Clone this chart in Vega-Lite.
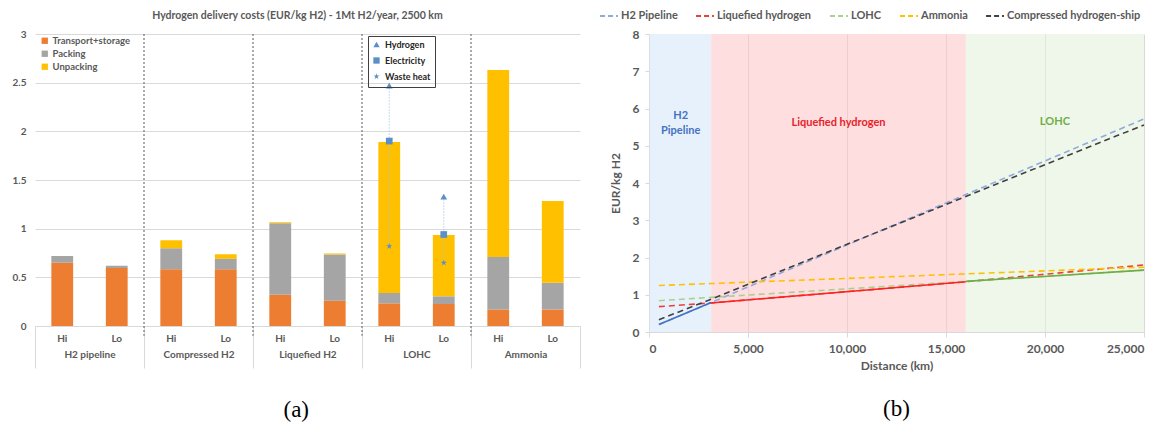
{
  "$schema": "https://vega.github.io/schema/vega-lite/v6.json",
  "background": "white",
  "padding": {"left": 12, "top": 6, "right": 5, "bottom": 5},
  "spacing": 18,
  "config": {"font": "Lato", "view": {"stroke": null}},
  "datasets": {
    "bars": [
      {"group": "H2 pipeline", "level": "Hi", "component": "Transport+storage", "value": 0.65},
      {"group": "H2 pipeline", "level": "Hi", "component": "Packing", "value": 0.07},
      {"group": "H2 pipeline", "level": "Hi", "component": "Unpacking", "value": 0},
      {"group": "H2 pipeline", "level": "Lo", "component": "Transport+storage", "value": 0.595},
      {"group": "H2 pipeline", "level": "Lo", "component": "Packing", "value": 0.025},
      {"group": "H2 pipeline", "level": "Lo", "component": "Unpacking", "value": 0},
      {"group": "Compressed H2", "level": "Hi", "component": "Transport+storage", "value": 0.583},
      {"group": "Compressed H2", "level": "Hi", "component": "Packing", "value": 0.217},
      {"group": "Compressed H2", "level": "Hi", "component": "Unpacking", "value": 0.08},
      {"group": "Compressed H2", "level": "Lo", "component": "Transport+storage", "value": 0.583},
      {"group": "Compressed H2", "level": "Lo", "component": "Packing", "value": 0.107},
      {"group": "Compressed H2", "level": "Lo", "component": "Unpacking", "value": 0.047},
      {"group": "Liquefied H2", "level": "Hi", "component": "Transport+storage", "value": 0.32},
      {"group": "Liquefied H2", "level": "Hi", "component": "Packing", "value": 0.735},
      {"group": "Liquefied H2", "level": "Hi", "component": "Unpacking", "value": 0.01},
      {"group": "Liquefied H2", "level": "Lo", "component": "Transport+storage", "value": 0.26},
      {"group": "Liquefied H2", "level": "Lo", "component": "Packing", "value": 0.475},
      {"group": "Liquefied H2", "level": "Lo", "component": "Unpacking", "value": 0.01},
      {"group": "LOHC", "level": "Hi", "component": "Transport+storage", "value": 0.233},
      {"group": "LOHC", "level": "Hi", "component": "Packing", "value": 0.107},
      {"group": "LOHC", "level": "Hi", "component": "Unpacking", "value": 1.55},
      {"group": "LOHC", "level": "Lo", "component": "Transport+storage", "value": 0.226},
      {"group": "LOHC", "level": "Lo", "component": "Packing", "value": 0.079},
      {"group": "LOHC", "level": "Lo", "component": "Unpacking", "value": 0.63},
      {"group": "Ammonia", "level": "Hi", "component": "Transport+storage", "value": 0.17},
      {"group": "Ammonia", "level": "Hi", "component": "Packing", "value": 0.54},
      {"group": "Ammonia", "level": "Hi", "component": "Unpacking", "value": 1.92},
      {"group": "Ammonia", "level": "Lo", "component": "Transport+storage", "value": 0.17},
      {"group": "Ammonia", "level": "Lo", "component": "Packing", "value": 0.275},
      {"group": "Ammonia", "level": "Lo", "component": "Unpacking", "value": 0.84}
    ],
    "cats": [
      {"group": "H2 pipeline", "level": "Hi"}, {"group": "H2 pipeline", "level": "Lo"},
      {"group": "Compressed H2", "level": "Hi"}, {"group": "Compressed H2", "level": "Lo"},
      {"group": "Liquefied H2", "level": "Hi"}, {"group": "Liquefied H2", "level": "Lo"},
      {"group": "LOHC", "level": "Hi"}, {"group": "LOHC", "level": "Lo"},
      {"group": "Ammonia", "level": "Hi"}, {"group": "Ammonia", "level": "Lo"}
    ],
    "seps": [
      {"group": "Compressed H2"}, {"group": "Liquefied H2"}, {"group": "LOHC"}, {"group": "Ammonia"}
    ],
    "energy": [
      {"group": "LOHC", "level": "Hi", "source": "Hydrogen", "value": 2.47},
      {"group": "LOHC", "level": "Hi", "source": "Electricity", "value": 1.9},
      {"group": "LOHC", "level": "Hi", "source": "Waste heat", "value": 0.82},
      {"group": "LOHC", "level": "Lo", "source": "Hydrogen", "value": 1.33},
      {"group": "LOHC", "level": "Lo", "source": "Electricity", "value": 0.94},
      {"group": "LOHC", "level": "Lo", "source": "Waste heat", "value": 0.65}
    ],
    "regions": [
      {"region": "H2 Pipeline", "km": 0, "km_end": 3140},
      {"region": "Liquefied hydrogen", "km": 3140, "km_end": 16000},
      {"region": "LOHC", "km": 16000, "km_end": 25000}
    ],
    "regionLabels": [
      {"region": "H2 Pipeline", "text": "H2", "km": 1600, "cost": 5.8},
      {"region": "H2 Pipeline", "text": "Pipeline", "km": 1600, "cost": 5.4},
      {"region": "Liquefied hydrogen", "text": "Liquefied hydrogen", "km": 9570, "cost": 5.6},
      {"region": "LOHC", "text": "LOHC", "km": 20500, "cost": 5.65}
    ],
    "curves": [
      {"series": "H2 Pipeline", "km": 500, "cost": 0.2},
      {"series": "H2 Pipeline", "km": 3140, "cost": 0.79},
      {"series": "H2 Pipeline", "km": 16000, "cost": 3.69},
      {"series": "H2 Pipeline", "km": 25000, "cost": 5.72},
      {"series": "Liquefied hydrogen", "km": 500, "cost": 0.68},
      {"series": "Liquefied hydrogen", "km": 3140, "cost": 0.78},
      {"series": "Liquefied hydrogen", "km": 16000, "cost": 1.35},
      {"series": "Liquefied hydrogen", "km": 25000, "cost": 1.8},
      {"series": "LOHC", "km": 500, "cost": 0.84},
      {"series": "LOHC", "km": 3140, "cost": 0.93},
      {"series": "LOHC", "km": 16000, "cost": 1.36},
      {"series": "LOHC", "km": 25000, "cost": 1.66},
      {"series": "Ammonia", "km": 500, "cost": 1.25},
      {"series": "Ammonia", "km": 3140, "cost": 1.3},
      {"series": "Ammonia", "km": 16000, "cost": 1.56},
      {"series": "Ammonia", "km": 25000, "cost": 1.74},
      {"series": "Compressed hydrogen-ship", "km": 500, "cost": 0.33},
      {"series": "Compressed hydrogen-ship", "km": 3140, "cost": 0.88},
      {"series": "Compressed hydrogen-ship", "km": 16000, "cost": 3.64},
      {"series": "Compressed hydrogen-ship", "km": 25000, "cost": 5.56}
    ],
    "best": [
      {"series": "H2 Pipeline", "km": 500, "cost": 0.2},
      {"series": "H2 Pipeline", "km": 3140, "cost": 0.79},
      {"series": "Liquefied hydrogen", "km": 3140, "cost": 0.78},
      {"series": "Liquefied hydrogen", "km": 16000, "cost": 1.35},
      {"series": "LOHC", "km": 16000, "cost": 1.36},
      {"series": "LOHC", "km": 25000, "cost": 1.66}
    ]
  },
  "hconcat": [
    {
      "title": {"text": "(a)", "orient": "bottom", "font": "Liberation Serif", "fontSize": 23, "fontWeight": "normal", "color": "#000000", "offset": 30, "anchor": "middle"},
      "vconcat": [
        {
          "width": 545,
          "height": 292,
          "title": {"text": "Hydrogen delivery costs (EUR/kg H2) - 1Mt H2/year, 2500 km", "fontSize": 10.5, "fontWeight": "bold", "color": "#595959", "offset": 8, "anchor": "middle", "dx": -10},
          "layer": [
            {
              "data": {"name": "bars"},
              "transform": [{"calculate": "indexof(['Transport+storage','Packing','Unpacking'], datum.component)", "as": "ord"}],
              "mark": {"type": "bar"},
              "encoding": {
                "x": {"field": "group", "type": "nominal", "sort": ["H2 pipeline", "Compressed H2", "Liquefied H2", "LOHC", "Ammonia"],
                  "scale": {"paddingInner": 0, "paddingOuter": 0},
                  "axis": {"title": null, "tickBand": "extent", "tickSize": 42, "tickColor": "#d9d9d9", "domainColor": "#d9d9d9", "labelAngle": 0, "labelPadding": -14, "labelFontSize": 10, "labelColor": "#595959", "labelFontWeight": "bold", "labelBaseline": "middle"}},
                "xOffset": {"field": "level", "type": "nominal", "sort": ["Hi", "Lo"], "scale": {"paddingInner": 0.6, "paddingOuter": 0.3}},
                "y": {"field": "value", "type": "quantitative", "stack": "zero", "scale": {"domain": [0, 3]},
                  "axis": {"title": null, "values": [0, 0.5, 1, 1.5, 2, 2.5, 3], "format": "~g", "gridColor": "#d9d9d9", "domain": false, "ticks": false, "labelPadding": 9, "labelFontSize": 10, "labelColor": "#595959", "labelFontWeight": "bold"}},
                "color": {"field": "component", "type": "nominal",
                  "scale": {"domain": ["Transport+storage", "Packing", "Unpacking"], "range": ["#ED7D31", "#A5A5A5", "#FFC000"]},
                  "legend": {"title": null, "orient": "none", "legendX": 5, "legendY": 2, "symbolType": "square", "symbolSize": 40, "labelFontSize": 9.5, "labelColor": "#595959", "labelFontWeight": "bold", "rowPadding": 2, "labelOffset": 3}},
                "order": {"field": "ord", "type": "quantitative"}
              }
            },
            {
              "data": {"name": "cats"},
              "mark": {"type": "text", "dy": 13, "fontSize": 10, "fontWeight": "bold", "color": "#595959", "baseline": "middle"},
              "encoding": {
                "x": {"field": "group", "type": "nominal", "sort": ["H2 pipeline", "Compressed H2", "Liquefied H2", "LOHC", "Ammonia"]},
                "xOffset": {"field": "level", "type": "nominal", "sort": ["Hi", "Lo"]},
                "y": {"datum": 0},
                "text": {"field": "level"}
              }
            },
            {
              "data": {"name": "seps"},
              "mark": {"type": "rule", "color": "#7f7f7f", "strokeDash": [2, 2], "strokeWidth": 1.3},
              "encoding": {
                "x": {"field": "group", "type": "nominal", "sort": ["H2 pipeline", "Compressed H2", "Liquefied H2", "LOHC", "Ammonia"], "bandPosition": 0},
                "y": {"datum": 3},
                "y2": {"datum": -0.1}
              }
            },
            {
              "data": {"name": "energy"},
              "mark": {"type": "line", "color": "#9DC3E6", "strokeDash": [1, 2], "strokeWidth": 1.2},
              "encoding": {
                "x": {"field": "group", "type": "nominal", "sort": ["H2 pipeline", "Compressed H2", "Liquefied H2", "LOHC", "Ammonia"]},
                "xOffset": {"field": "level", "type": "nominal", "sort": ["Hi", "Lo"]},
                "y": {"field": "value", "type": "quantitative"},
                "detail": {"field": "level"}
              }
            },
            {
              "data": {"name": "energy"},
              "mark": {"type": "point", "filled": true, "color": "#5B8FC8", "opacity": 1, "size": 45},
              "encoding": {
                "x": {"field": "group", "type": "nominal", "sort": ["H2 pipeline", "Compressed H2", "Liquefied H2", "LOHC", "Ammonia"]},
                "xOffset": {"field": "level", "type": "nominal", "sort": ["Hi", "Lo"]},
                "y": {"field": "value", "type": "quantitative"},
                "shape": {"field": "source", "type": "nominal",
                  "scale": {"domain": ["Hydrogen", "Electricity", "Waste heat"], "range": ["triangle-up", "square", "M0,-1L0.2245,-0.309L0.951,-0.309L0.363,0.118L0.588,0.809L0,0.382L-0.588,0.809L-0.363,0.118L-0.951,-0.309L-0.2245,-0.309Z"]},
                  "legend": {"title": null, "orient": "none", "legendX": 333, "legendY": 2, "strokeColor": "#404040", "padding": 4, "symbolSize": 40, "labelFontSize": 9, "labelColor": "#262626", "labelFontWeight": "bold", "rowPadding": 3, "symbolFillColor": "#5B8FC8", "symbolStrokeColor": "#5B8FC8", "labelLimit": 200}}
              }
            }
          ]
        }
      ]
    },
    {
      "width": 495,
      "height": 298,
      "title": {"text": "(b)", "orient": "bottom", "font": "Liberation Serif", "fontSize": 23, "fontWeight": "normal", "color": "#000000", "offset": 27, "anchor": "middle"},
      "resolve": {"scale": {"color": "independent"}},
      "layer": [
        {
          "data": {"name": "regions"},
          "mark": {"type": "rect", "opacity": 0.55},
          "encoding": {
            "x": {"field": "km", "type": "quantitative", "scale": {"domain": [0, 25000], "nice": false},
              "axis": {"title": "Distance (km)", "values": [0, 5000, 10000, 15000, 20000, 25000], "format": ",.0f", "gridColor": "#d9d9d9", "domainColor": "#d9d9d9", "tickColor": "#d9d9d9", "labelFontSize": 12, "labelColor": "#595959", "labelFontWeight": "bold", "titleFontSize": 12, "titleColor": "#595959", "titleFontWeight": "bold", "labelPadding": 6, "titlePadding": 6}},
            "x2": {"field": "km_end"},
            "y": {"datum": 8, "type": "quantitative", "scale": {"domain": [0, 8], "nice": false},
              "axis": {"title": "EUR/kg H2", "values": [0, 1, 2, 3, 4, 5, 6, 7, 8], "format": "d", "gridColor": "#d9d9d9", "domainColor": "#d9d9d9", "tickColor": "#d9d9d9", "tickSize": 4, "labelFontSize": 12, "labelColor": "#595959", "labelFontWeight": "bold", "titleFontSize": 12, "titleColor": "#595959", "titleFontWeight": "bold", "labelPadding": 6, "titlePadding": 10}},
            "y2": {"datum": 0},
            "color": {"field": "region", "type": "nominal", "scale": {"domain": ["H2 Pipeline", "Liquefied hydrogen", "LOHC"], "range": ["#D3E5F7", "#FFC2C6", "#E2F0D9"]}, "legend": null}
          }
        },
        {
          "data": {"name": "regionLabels"},
          "mark": {"type": "text", "fontSize": 11, "fontWeight": "bold", "baseline": "middle"},
          "encoding": {
            "x": {"field": "km", "type": "quantitative",
              "axis": {"title": "Distance (km)", "values": [0, 5000, 10000, 15000, 20000, 25000], "format": ",.0f", "gridColor": "#d9d9d9", "domainColor": "#d9d9d9", "tickColor": "#d9d9d9", "labelFontSize": 12, "labelColor": "#595959", "labelFontWeight": "bold", "titleFontSize": 12, "titleColor": "#595959", "titleFontWeight": "bold", "labelPadding": 6, "titlePadding": 6}},
            "y": {"field": "cost", "type": "quantitative",
              "axis": {"title": "EUR/kg H2", "values": [0, 1, 2, 3, 4, 5, 6, 7, 8], "format": "d", "gridColor": "#d9d9d9", "domainColor": "#d9d9d9", "tickColor": "#d9d9d9", "tickSize": 4, "labelFontSize": 12, "labelColor": "#595959", "labelFontWeight": "bold", "titleFontSize": 12, "titleColor": "#595959", "titleFontWeight": "bold", "labelPadding": 6, "titlePadding": 10}},
            "text": {"field": "text"},
            "color": {"field": "region", "type": "nominal", "scale": {"domain": ["H2 Pipeline", "Liquefied hydrogen", "LOHC"], "range": ["#4472C4", "#E8222A", "#70AD47"]}, "legend": null}
          }
        },
        {
          "data": {"name": "curves"},
          "mark": {"type": "line", "strokeDash": [6, 4], "strokeWidth": 1.6},
          "encoding": {
            "x": {"field": "km", "type": "quantitative",
              "axis": {"title": "Distance (km)", "values": [0, 5000, 10000, 15000, 20000, 25000], "format": ",.0f", "gridColor": "#d9d9d9", "domainColor": "#d9d9d9", "tickColor": "#d9d9d9", "labelFontSize": 12, "labelColor": "#595959", "labelFontWeight": "bold", "titleFontSize": 12, "titleColor": "#595959", "titleFontWeight": "bold", "labelPadding": 6, "titlePadding": 6}},
            "y": {"field": "cost", "type": "quantitative",
              "axis": {"title": "EUR/kg H2", "values": [0, 1, 2, 3, 4, 5, 6, 7, 8], "format": "d", "gridColor": "#d9d9d9", "domainColor": "#d9d9d9", "tickColor": "#d9d9d9", "tickSize": 4, "labelFontSize": 12, "labelColor": "#595959", "labelFontWeight": "bold", "titleFontSize": 12, "titleColor": "#595959", "titleFontWeight": "bold", "labelPadding": 6, "titlePadding": 10}},
            "color": {"field": "series", "type": "nominal",
              "scale": {"domain": ["H2 Pipeline", "Liquefied hydrogen", "LOHC", "Ammonia", "Compressed hydrogen-ship"], "range": ["#8FAADC", "#E8413C", "#A9D18E", "#FFC000", "#404040"]},
              "legend": {"title": null, "orient": "none", "direction": "horizontal", "legendX": -50, "legendY": -28, "symbolType": "stroke", "symbolDash": [5, 3], "symbolStrokeWidth": 2, "symbolSize": 320, "labelFontSize": 11, "labelColor": "#595959", "labelFontWeight": "bold", "columnPadding": 14, "labelOffset": 2, "labelLimit": 250}}
          }
        },
        {
          "data": {"name": "best"},
          "mark": {"type": "line", "strokeWidth": 1.6},
          "encoding": {
            "x": {"field": "km", "type": "quantitative",
              "axis": {"title": "Distance (km)", "values": [0, 5000, 10000, 15000, 20000, 25000], "format": ",.0f", "gridColor": "#d9d9d9", "domainColor": "#d9d9d9", "tickColor": "#d9d9d9", "labelFontSize": 12, "labelColor": "#595959", "labelFontWeight": "bold", "titleFontSize": 12, "titleColor": "#595959", "titleFontWeight": "bold", "labelPadding": 6, "titlePadding": 6}},
            "y": {"field": "cost", "type": "quantitative",
              "axis": {"title": "EUR/kg H2", "values": [0, 1, 2, 3, 4, 5, 6, 7, 8], "format": "d", "gridColor": "#d9d9d9", "domainColor": "#d9d9d9", "tickColor": "#d9d9d9", "tickSize": 4, "labelFontSize": 12, "labelColor": "#595959", "labelFontWeight": "bold", "titleFontSize": 12, "titleColor": "#595959", "titleFontWeight": "bold", "labelPadding": 6, "titlePadding": 10}},
            "color": {"field": "series", "type": "nominal",
              "scale": {"domain": ["H2 Pipeline", "Liquefied hydrogen", "LOHC"], "range": ["#4472C4", "#FF2020", "#70AD47"]},
              "legend": null}
          }
        }
      ]
    }
  ]
}
